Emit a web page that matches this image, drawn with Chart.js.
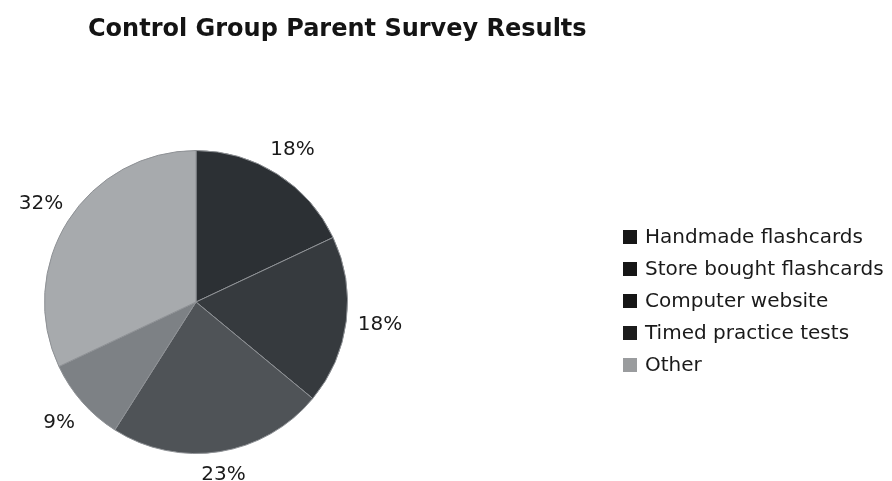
<!DOCTYPE html>
<html>
<head>
<meta charset="utf-8">
<script src="https://cdn.jsdelivr.net/npm/chart.js@4"></script>
<style>
  html, body { margin: 0; padding: 0; background: #fff; }
  #wrap { width: 892px; height: 481px; }
</style>
</head>
<body>
<div id="wrap"><canvas id="pie" width="892" height="481"></canvas></div>
<script>
const categories = ["Handmade flashcards", "Store bought flashcards", "Computer website", "Timed practice tests", "Other"];
const percents = [18, 18, 23, 9, 32];

const sliceColors = ["#2c3034", "#363a3e", "#4f5357", "#7d8185", "#a7aaad"];
const swatchColors = ["#161616", "#161616", "#161616", "#1c1c1c", "#9a9c9e"];

const overlay = {
  id: "overlay",
  afterDatasetsDraw(chart) {
    const ctx = chart.ctx;
    ctx.save();
    // title
    ctx.fillStyle = "#141414";
    ctx.font = "bold 24px 'DejaVu Sans'";
    ctx.textAlign = "left";
    ctx.textBaseline = "alphabetic";
    ctx.fillText("Control Group Parent Survey Results", 88, 36);

    // percent labels outside each slice
    ctx.font = "20px 'DejaVu Sans'";
    ctx.textAlign = "center";
    ctx.textBaseline = "middle";
    ctx.fillStyle = "#1a1a1a";
    chart.getDatasetMeta(0).data.forEach((arc, i) => {
      const p = arc.getProps(["x", "y", "startAngle", "endAngle", "outerRadius"], true);
      const mid = (p.startAngle + p.endAngle) / 2;
      const d = p.outerRadius + 22 + Math.abs(Math.cos(mid)) * 12;
      ctx.fillText(percents[i] + "%", p.x + Math.cos(mid) * d, p.y + Math.sin(mid) * d);
    });

    // legend
    ctx.font = "20px 'DejaVu Sans'";
    ctx.textAlign = "left";
    categories.forEach((c, i) => {
      const y = 237 + i * 32;
      ctx.fillStyle = swatchColors[i];
      ctx.fillRect(623, y - 7, 14, 14);
      ctx.fillStyle = "#1a1a1a";
      ctx.fillText(c, 645, y + 1);
    });
    ctx.restore();
  }
};

new Chart(document.getElementById("pie"), {
  type: "pie",
  data: {
    labels: categories,
    datasets: [{
      data: percents,
      backgroundColor: sliceColors,
      borderColor: "#8e9195",
      borderWidth: 1
    }]
  },
  options: {
    responsive: false,
    animation: false,
    layout: { padding: { left: 44, right: 544, top: 150, bottom: 27 } },
    plugins: {
      legend: { display: false },
      title: { display: false },
      tooltip: { enabled: false }
    }
  },
  plugins: [overlay]
});
</script>
</body>
</html>
